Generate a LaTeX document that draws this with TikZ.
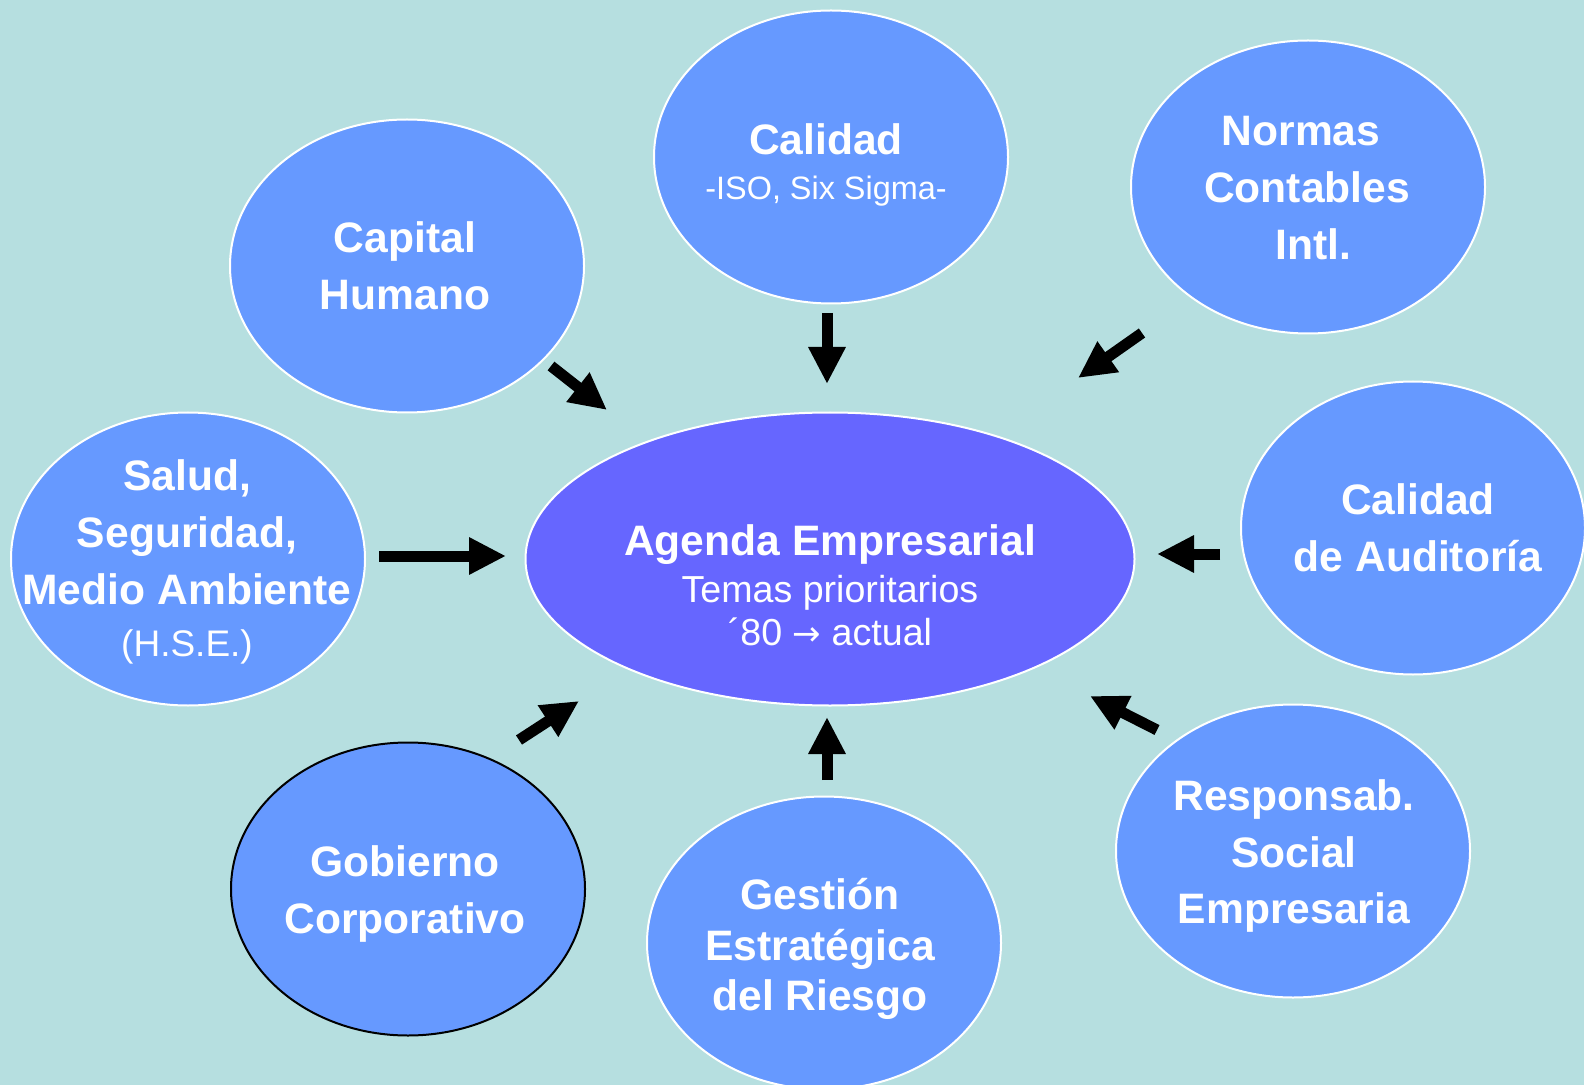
\documentclass[tikz,border=0pt]{standalone}
\usepackage{fontspec}
\setmainfont{Liberation Sans}
\newfontfamily\arrowfont{DejaVu Sans}
\usetikzlibrary{arrows.meta,shapes.geometric}
\definecolor{bgc}{HTML}{B6DFE0}
\definecolor{bubblec}{HTML}{6699FF}
\definecolor{corec}{HTML}{6666FF}
\begin{document}
\begin{tikzpicture}[x=0.5pt,y=-0.5pt,
  bubble/.style={ellipse, draw=white, line width=1pt, fill=bubblec, inner sep=0pt,
    minimum width=177pt, minimum height=146.5pt},
  txt/.style={text=white, align=center, inner sep=0pt,
    font=\bfseries\fontsize{21.3}{28.4}\selectfont},
  subtxt/.style={},
  blk/.style={line width=5.5pt, -{Triangle[length=18.5pt,width=17.5pt]}}
]
\newcommand\subfont{\mdseries\fontsize{18.8}{22}\selectfont}
\fill[bgc] (0,0) rectangle (1584,1085);
\useasboundingbox (0,0) rectangle (1584,1085);

% ellipses
\node[bubble] (cal) at (831,157) {};
\node[bubble] (nor) at (1308,187) {};
\node[bubble] (cap) at (407,266) {};
\node[bubble] (sal) at (188,559) {};
\node[bubble, minimum width=172pt] (aud) at (1413,528) {};
\node[bubble, draw=black] (gob) at (408,889) {};
\node[bubble] (ges) at (824,943) {};
\node[bubble] (rse) at (1293,851) {};
\node[ellipse, draw=white, line width=1pt, fill=corec, inner sep=0pt,
  minimum width=304.5pt, minimum height=146.5pt] (core) at (830,559) {};

% texts
\node[txt] (t-cal) at (826,165) {Calidad\\[-6pt]{\mdseries\fontsize{16.2}{19}\selectfont -ISO, Six Sigma-}};
\node[txt] (t-nor) at (1307,188) {Normas\kern6pt\\Contables\\\kern6pt Intl.};
\node[txt] (t-cap) at (405,266) {Capital\\Humano};
\node[txt] (t-sal) at (187,562) {Salud,\\Seguridad,\\Medio Ambiente\\[-2pt]{\mdseries\fontsize{18.5}{21}\selectfont (H.S.E.)}};
\node[txt] (t-aud) at (1418,528) {Calidad\\de Auditoría};
\node[txt] (t-gob) at (405,894) {Gobierno\\Corporativo};
\node[txt] (t-ges) at (820,949) {Gestión\\[-3pt]Estratégica\\[-3pt]del Riesgo};
\node[txt] (t-rse) at (1294,856) {Responsab.\\Social\\Empresaria};
\node[txt] (t-core) at (830,585) {Agenda Empresarial\\[-5pt]{\subfont Temas prioritarios}\\[-7pt]{\subfont ´80 {\arrowfont\fontsize{17}{20}\selectfont →} actual}};

% arrow endpoints
\coordinate (a1s) at (551,366); \coordinate (a1e) at (607,410);
\coordinate (a2s) at (827,313); \coordinate (a2e) at (827,384);
\coordinate (a3s) at (1142,333); \coordinate (a3e) at (1078,378);
\coordinate (a4s) at (379,556); \coordinate (a4e) at (506,556);
\coordinate (a5s) at (1220,554); \coordinate (a5e) at (1157,554);
\coordinate (a6s) at (519,740); \coordinate (a6e) at (579,701);
\coordinate (a7s) at (827,780); \coordinate (a7e) at (827,717);
\coordinate (a8s) at (1157,730); \coordinate (a8e) at (1090,696);

\draw[blk] (a1s) -- (a1e);
\draw[blk] (a2s) -- (a2e);
\draw[blk] (a3s) -- (a3e);
\draw[blk] (a4s) -- (a4e);
\draw[blk] (a5s) -- (a5e);
\draw[blk] (a6s) -- (a6e);
\draw[blk] (a7s) -- (a7e);
\draw[blk] (a8s) -- (a8e);
\end{tikzpicture}
\end{document}
